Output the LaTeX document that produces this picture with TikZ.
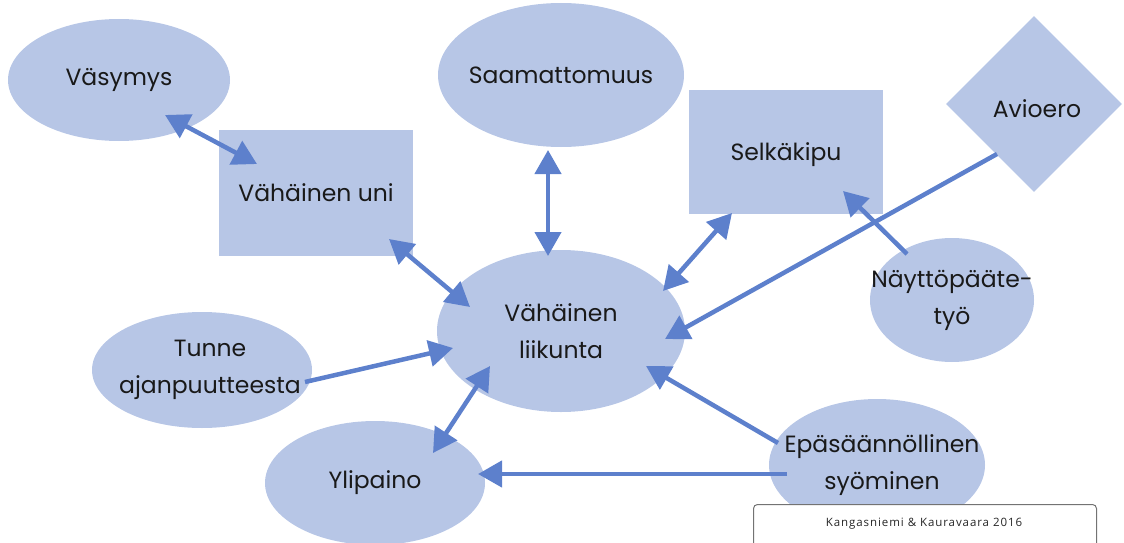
\documentclass[tikz,border=0pt]{standalone}
\usepackage{fontspec}
\setmainfont{Poppins}
\newfontfamily\creditfont[LetterSpace=8]{Open Sans}
\usetikzlibrary{shapes.geometric,arrows.meta,calc}
\definecolor{nodefill}{RGB}{183,198,230}
\definecolor{arrowcol}{RGB}{93,128,204}
\definecolor{txt}{RGB}{25,25,25}
\tikzset{
  lbl/.style={align=center,text=txt,font=\fontsize{23.5}{37}\selectfont,inner sep=0pt},
  ell/.style={ellipse,fill=nodefill,inner sep=0pt},
  box/.style={rectangle,fill=nodefill,inner sep=0pt},
  dia/.style={diamond,fill=nodefill,inner sep=0pt},
  conn/.style={draw=arrowcol,line width=4.5pt},
  one/.style={conn,-{Triangle[length=24pt,width=26pt]}},
  two/.style={conn,{Triangle[length=24pt,width=26pt]}-{Triangle[length=24pt,width=26pt]}},
}
\begin{document}
\begin{tikzpicture}[x=1pt,y=-1pt]
\useasboundingbox (0,0) rectangle (1124,543);
\node[ell,minimum width=222pt,minimum height=122pt,label={[lbl]center:Väsymys}] (vas) at (119,80) {};
\node[ell,minimum width=246pt,minimum height=144pt,label={[lbl]center:Saamattomuus}] (sam) at (561,75) {};
\node[ell,minimum width=248pt,minimum height=162pt,label={[lbl]center:Vähäinen\\liikunta}] (liik) at (561,331) {};
\node[ell,minimum width=220pt,minimum height=116pt,label={[lbl,xshift=8pt]center:Tunne\\ajanpuutteesta}] (tun) at (202,370) {};
\node[ell,minimum width=220pt,minimum height=124pt,label={[lbl]center:Ylipaino}] (yli) at (375,483) {};
\node[ell,minimum width=216pt,minimum height=132pt,label={[lbl,xshift=5pt]center:Epäsäännöllinen\\syöminen}] (epa) at (877,465) {};
\node[ell,minimum width=164pt,minimum height=124pt,label={[lbl]center:Näyttöpääte-\\työ}] (nay) at (952,300) {};
\node[box,minimum width=194pt,minimum height=126pt,label={[lbl]center:Vähäinen uni}] (uni) at (316,193) {};
\node[box,minimum width=194pt,minimum height=124pt,label={[lbl,yshift=-3pt]center:Selkäkipu}] (selk) at (786,152) {};
\node[dia,minimum width=176pt,minimum height=176pt,label={[lbl,xshift=3pt,yshift=-5pt]center:Avioero}] (avio) at (1034,104) {};
\node[draw=black!55,line width=1pt,rounded corners=4pt,fill=white,minimum width=343pt,minimum height=60pt,anchor=north west,inner sep=0pt] (cred) at (753,504) {};
\node[font=\creditfont\fontsize{11.5}{13}\selectfont,text=black!85] (credt) at (924,524) {Kangasniemi \& Kauravaara 2016};
% connectors
\draw[two] ($(vas)+(46,35)$) -- ($(uni)+(-59,-29)$);
\draw[two] ($(uni)+(73,46)$) -- ($(liik)+(-91,-24)$);
\draw[two] ($(sam)+(-13,75)$) -- ($(liik)+(-13,-75)$);
\draw[two] ($(selk)+(-54,61)$) -- ($(liik)+(102,-40)$);
\draw[one] ($(avio)+(-37,50)$) -- ($(liik)+(104,8)$);
\draw[one] ($(nay)+(-45,-46)$) -- ($(selk)+(57,39)$);
\draw[one] ($(tun)+(103,12)$) -- ($(liik)+(-108,17)$);
\draw[two] ($(liik)+(-71,35)$) -- ($(yli)+(58,-30)$);
\draw[one] ($(epa)+(-99,-22)$) -- ($(liik)+(85,35)$);
\draw[one] ($(epa)+(-90,9)$) -- ($(yli)+(103,-9)$);
\end{tikzpicture}
\end{document}
